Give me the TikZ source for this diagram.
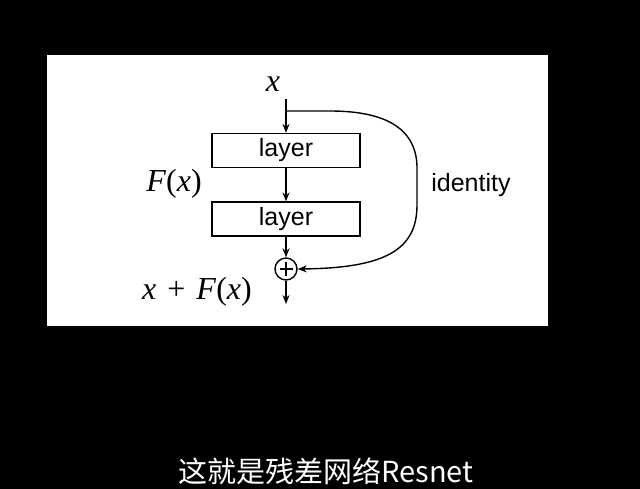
\documentclass[tikz,border=0pt]{standalone}
\usepackage{fontspec}
\setmainfont{Liberation Serif}
\newfontfamily\arial{Liberation Sans}
\newfontfamily\cjk{Noto Sans CJK SC}
\usetikzlibrary{arrows.meta}
\begin{document}
\begin{tikzpicture}[x=1pt,y=-1pt,
  arr/.style={line width=1.4pt,-{Stealth[length=9pt,width=7pt]}},
  layerbox/.style={draw,line width=1.2pt,minimum width=148pt,minimum height=34pt,inner sep=0pt,font=\arial\fontsize{25}{25}\selectfont},
  mathlbl/.style={inner sep=0pt,font=\fontsize{32}{32}\selectfont},
  plusnode/.style={draw,circle,line width=1.4pt,minimum size=22pt,inner sep=0pt,
    path picture={\draw[line width=1.4pt] ([xshift=-6.5pt]path picture bounding box.center) -- ([xshift=6.5pt]path picture bounding box.center);
                  \draw[line width=1.4pt] ([yshift=-6.5pt]path picture bounding box.center) -- ([yshift=6.5pt]path picture bounding box.center);}}]
\fill[black] (0,0) rectangle (640,489);
\useasboundingbox (0,0) rectangle (640,489);
\fill[white] (47,55) rectangle (548,326);

\node[mathlbl] (xin) at (273,84) {\textit{x}};
\node[layerbox] (l1) at (286,150.5) {layer};
\node[layerbox] (l2) at (286,219) {layer};
\node[plusnode] (plus) at (286,269) {};
\coordinate (start) at (286,99);
\coordinate (split) at (286,111);
\coordinate (out) at (286,304);

\node[mathlbl] (fx) at (174,184) {\textit{F}(\textit{x})};
\node[mathlbl] (xfx) at (197,292) {\textit{x}\kern 11pt+\kern 11pt\textit{F}(\textit{x})};
\node[inner sep=0pt,font=\arial\fontsize{25}{25}\selectfont] (id) at (471,185) {identity};

\draw[arr] (start) -- (l1);
\draw[arr] (l1) -- (l2);
\draw[arr] (l2) -- (plus);
\draw[arr] (plus) -- (out);
\draw[arr] (split) -- (330,111) .. controls (395,111) and (417,135) .. (417,168) -- (417,205) .. controls (417,250) and (385,268) .. (plus.east);

\node[text=white,inner sep=0pt,font=\cjk\fontsize{29}{29}\selectfont] (cap) at (326,471) {这就是残差网络Resnet};
\end{tikzpicture}
\end{document}
